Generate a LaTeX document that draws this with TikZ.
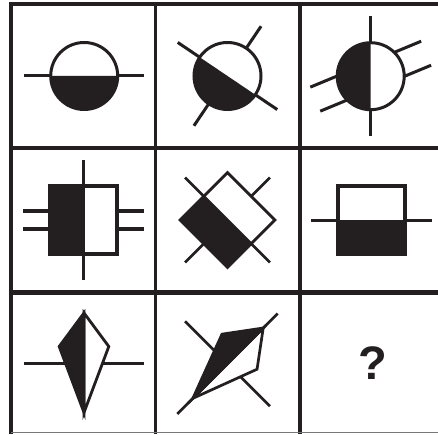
\documentclass[tikz,border=0pt]{standalone}
\usepackage{fontspec}
\newfontfamily\qfont{Liberation Sans}
\definecolor{ink}{RGB}{35,31,32}
\definecolor{edgegray}{RGB}{120,120,120}
\tikzset{
  grid/.style={draw=ink, line width=4pt},
  stub/.style={draw=ink, line width=3pt},
  outl/.style={draw=ink, line width=3pt},
  thinstub/.style={draw=ink, line width=2.7pt},
}
\begin{document}
\begin{tikzpicture}[x=1pt,y=1pt]
\useasboundingbox (0,0) rectangle (438,434);
\fill[white] (0,0) rectangle (438,434);

% ---------- grid ----------
\draw[grid] (11,0) -- (11,432);
\draw[grid] (9,430) -- (438,430);
\draw[grid, line width=3pt] (155.5,0) -- (155.5,430);
\draw[grid] (299.5,0) -- (299.5,430);
\draw[grid] (11,286) -- (438,286);
\draw[grid, line width=4.5pt] (11,141.5) -- (438,141.5);
\draw[draw=edgegray, line width=1.5pt] (11,1.5) -- (438,1.5);

% ---------- cell 1 ----------
\begin{scope}[shift={(84.2,358)}]
  \draw[stub] (-60,0) -- (60,0);
  \fill[white] (0,0) circle (33.5);
  \fill[ink] (-33.5,0) arc (180:360:33.5) -- cycle;
  \draw[outl] (0,0) circle (33.5);
\end{scope}

% ---------- cell 2 ----------
\begin{scope}[shift={(227.5,358)}, rotate=-34]
  \draw[stub] (-60,0) -- (60,0);
  \draw[stub] (0,33) -- (0,60);
  \draw[stub] (0,-33) -- (0,-60);
  \fill[white] (0,0) circle (33.5);
  \fill[ink] (-33.5,0) arc (180:360:33.5) -- cycle;
  \draw[outl] (0,0) circle (33.5);
\end{scope}

% ---------- cell 3 ----------
\begin{scope}[shift={(370.7,357.8)}]
  \begin{scope}[rotate=22.5]
    \draw[stub] (-60,13) -- (60,13);
    \draw[stub] (-60,-13) -- (60,-13);
  \end{scope}
  \begin{scope}[rotate=-90]
    \draw[stub] (-60.3,0) -- (60.3,0);
    \fill[white] (0,0) circle (33.5);
    \fill[ink] (-33.5,0) arc (180:360:33.5) -- cycle;
    \draw[outl] (0,0) circle (33.5);
  \end{scope}
\end{scope}

% ---------- cell 4 ----------
\begin{scope}[shift={(83.6,214)}]
  \draw[stub, line width=3.3pt] (-60.3,9) -- (60.3,9);
  \draw[stub, line width=3.3pt] (-60.3,-9) -- (60.3,-9);
  \fill[white] (-33.8,-34.2) rectangle (33.8,34.2);
  \fill[ink] (-33.8,-34.2) rectangle (0,34.2);
  \draw[outl, line width=4pt] (-33.8,-34.2) rectangle (33.8,34.2);
  \draw[stub, line width=3.3pt] (0,-60) -- (0,60);
\end{scope}

% ---------- cell 5 ----------
\begin{scope}[shift={(227.5,214)}, rotate=45]
  \draw[thinstub] (-60,0) -- (60,0);
  \fill[white] (-33.5,-33.5) rectangle (33.5,33.5);
  \fill[ink] (-33.5,-33.5) rectangle (0,33.5);
  \draw[outl, line width=2.7pt] (-33.5,-33.5) rectangle (33.5,33.5);
  \draw[thinstub] (0,-60) -- (0,60);
\end{scope}

% ---------- cell 6 ----------
\begin{scope}[shift={(371.3,213.8)}]
  \draw[stub, line width=3.3pt] (-60.3,0) -- (60.3,0);
  \fill[white] (-33.8,0) rectangle (33.8,34.2);
  \fill[ink] (-33.8,-34.2) rectangle (33.8,0);
  \draw[outl, line width=4pt] (-33.8,-34.2) rectangle (33.8,34.2);
\end{scope}

% ---------- cell 7 ----------
\begin{scope}[shift={(84,70.5)}]
  \draw[stub] (-60.3,0) -- (60.3,0);
  \filldraw[fill=white, outl, line width=2.8pt] (0,50.5) -- (24.8,17) -- (0,-49) -- cycle;
  \filldraw[fill=ink, outl, line width=2.8pt] (0,50.5) -- (-24.8,17) -- (0,-49) -- cycle;
\end{scope}

% ---------- cell 8 ----------
\begin{scope}[shift={(227.5,70.3)}, rotate=-45]
  \draw[thinstub] (-60,0) -- (60,0);
  \filldraw[fill=white, outl, line width=2.7pt] (0,50.5) -- (24.8,17) -- (0,-49) -- cycle;
  \filldraw[fill=ink, outl, line width=2.7pt] (0,50.5) -- (-24.8,17) -- (0,-49) -- cycle;
  \draw[thinstub] (0,-71) -- (0,71);
\end{scope}

% ---------- cell 9 ----------
\node[inner sep=0pt, text=ink, font=\qfont\bfseries\fontsize{47}{47}\selectfont] (q) at (372.5,70.7) {?};
\end{tikzpicture}
\end{document}
